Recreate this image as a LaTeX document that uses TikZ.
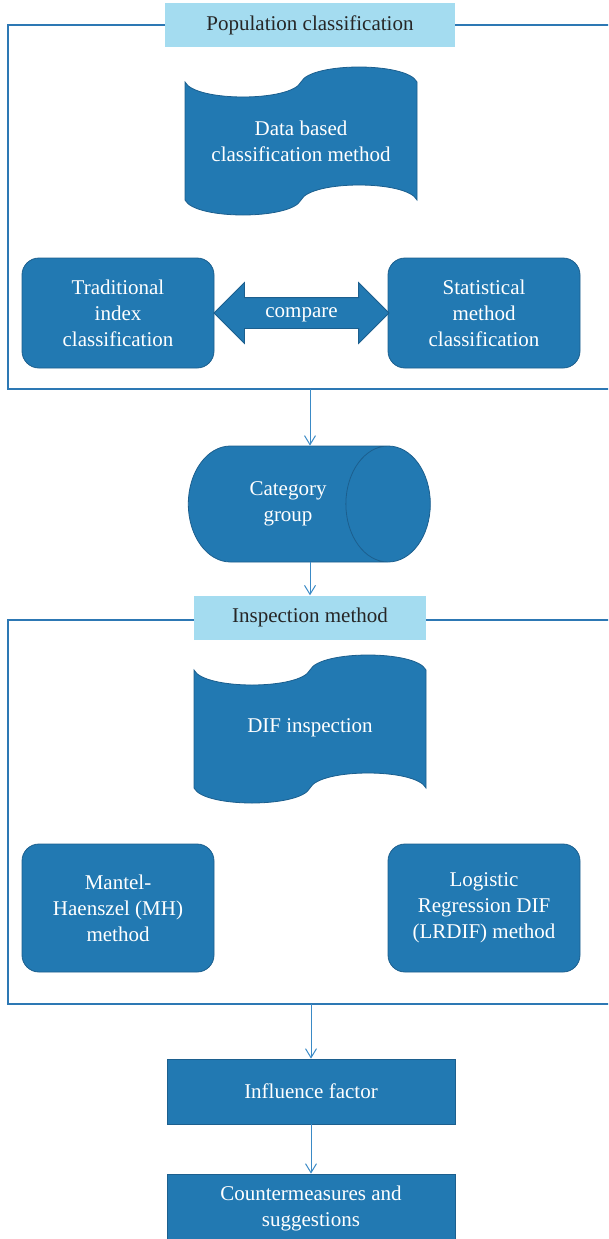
\documentclass[tikz,border=0pt]{standalone}
\usepackage{fontspec}
\setmainfont{Liberation Serif}
\usetikzlibrary{shapes.geometric,shapes.arrows,arrows.meta}

\definecolor{boxblue}{HTML}{2279B2}
\definecolor{boxline}{HTML}{1C5F8E}
\definecolor{titleblue}{HTML}{A4DCF0}
\definecolor{frameline}{HTML}{2D78B4}
\definecolor{arrline}{HTML}{3A8AC6}

\begin{document}
\begin{tikzpicture}[x=1pt,y=-1pt,
	every node/.style={font=\fontsize{21}{26}\selectfont},
	title/.style={fill=titleblue,text=black!85,minimum height=44pt,inner sep=0pt},
	blok/.style={fill=boxblue,draw=boxline,line width=0.8pt,text=white,align=center,inner sep=0pt},
	rbox/.style={blok,rounded corners=17pt,minimum width=192pt},
	dbl/.style={blok,double arrow,double arrow head extend=15pt,minimum height=175pt,
		text height=12pt,text depth=4pt,inner ysep=7pt},
	cyl/.style={blok,cylinder,shape aspect=1.9,minimum width=116pt,minimum height=242pt},
	frame/.style={draw=frameline,line width=1.2pt},
	arr/.style={draw=arrline,line width=1pt,-{Straight Barb[length=9pt,width=11pt]}}]
	\path[use as bounding box,clip] (0,0) rectangle (608,1239);

% population classification frame
\draw[frame] (8,25) rectangle (640,389);
\node[title,minimum width=290pt] (pop) at (310,25) {Population classification};
% data based tape
\draw[blok] (185,82) .. controls (195,102) and (291,102) .. (301,82)
		.. controls (311,62) and (407,62) .. (417,82) -- (417,200)
		.. controls (407,180) and (311,180) .. (301,200)
		.. controls (291,220) and (195,220) .. (185,200) -- cycle;
\node[text=white,align=center] (data) at (301,141) {Data based\\classification method};
% the two classifications
\node[rbox,minimum height=110pt] (trad) at (118,313) {Traditional\\index\\classification};
\node[rbox,minimum height=110pt] (stat) at (484,313) {Statistical\\method\\classification};
\node[dbl] (cmp) at (301.5,313) {compare};

% category group
\node[cyl] (cat) at (288,504) {Category\\group};

% inspection method frame
\draw[frame] (8,620) rectangle (640,1004);
\node[title,minimum width=232pt] (insp) at (310,617.5) {Inspection method};
% DIF tape
\draw[blok] (194,670) .. controls (204,690) and (300,690) .. (310,670)
		.. controls (320,650) and (416,650) .. (426,670) -- (426,788)
		.. controls (416,768) and (320,768) .. (310,788)
		.. controls (300,808) and (204,808) .. (194,788) -- cycle;
\node[text=white] (dif) at (310,728) {DIF inspection};
% the two methods
\node[rbox,minimum height=128pt] (mh) at (118,908) {Mantel-\\Haenszel (MH)\\method};
\node[rbox,minimum height=128pt] (lr) at (484,908) {Logistic\\Regression DIF\\(LRDIF) method};

% results
\node[blok,minimum width=288pt,minimum height=65pt] (infl) at (311,1091.5) {Influence factor};
\node[blok,minimum width=288pt,minimum height=68pt] (cnt) at (311,1208) {Countermeasures and\\suggestions};

% arrows
\coordinate (popb) at (310,389);
\coordinate (inspb) at (311,1004);
\draw[arr] (popb) -- (popb |- cat.north);
\draw[arr] (popb |- cat.south) -- (popb |- insp.north);
\draw[arr] (inspb) -- (infl.north);
\draw[arr] (infl.south) -- (cnt.north);

\end{tikzpicture}
\end{document}
